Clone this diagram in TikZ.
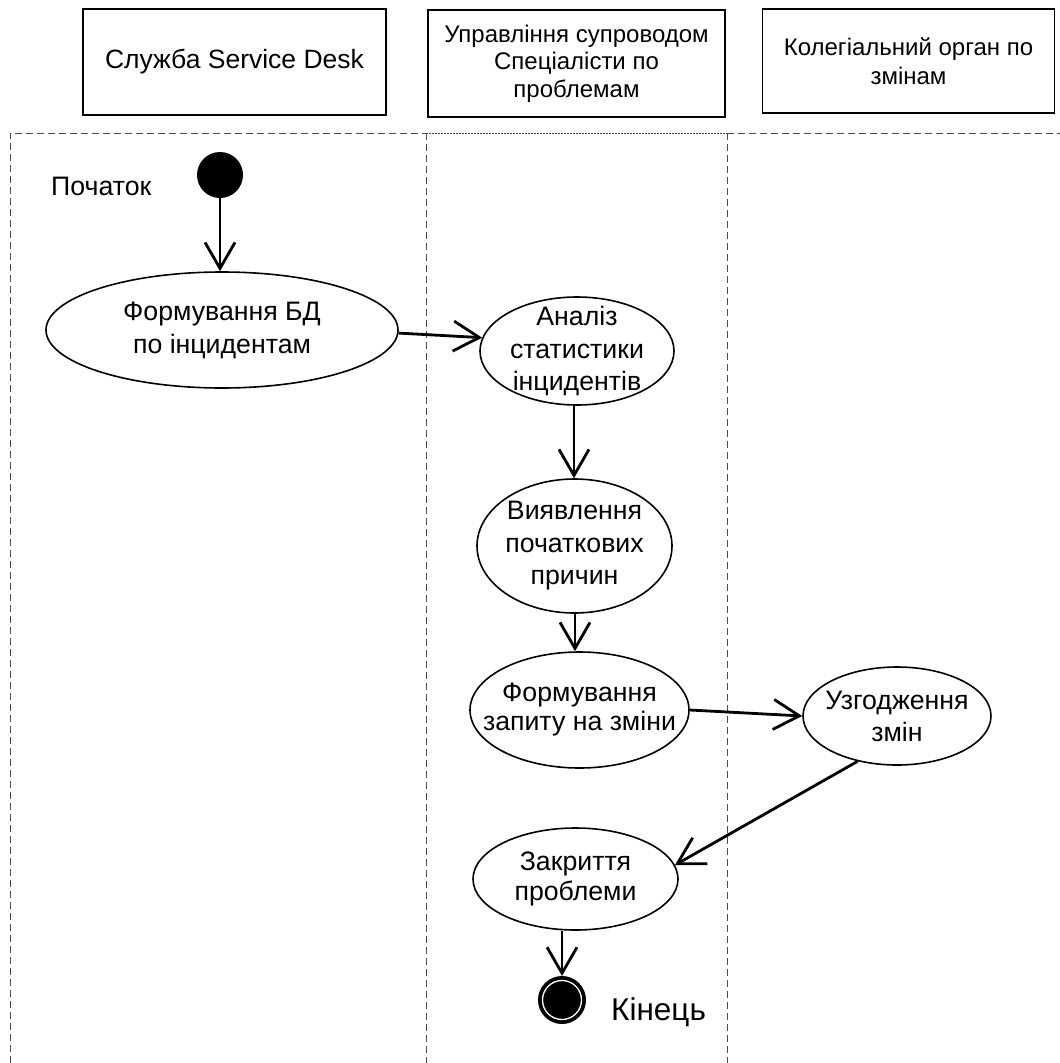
\documentclass[tikz,border=0pt]{standalone}
\usepackage{fontspec}
\setmainfont{Liberation Sans}
\usetikzlibrary{arrows.meta,shapes.geometric}
\begin{document}
\begin{tikzpicture}[x=1pt,y=-1pt,
  lane/.style={draw=black!70, line width=0.8pt, dash pattern=on 7pt off 4pt},
  lanefine/.style={draw=black!70, line width=0.8pt, dash pattern=on 2pt off 1pt},
  header/.style={draw, line width=1.5pt, align=center, inner sep=0pt,
    font=\fontsize{24}{28}\selectfont},
  act/.style={ellipse, draw, line width=1.6pt, inner sep=0pt},
  body/.style={align=center, inner sep=0pt, font=\fontsize{26.7}{#1}\selectfont},
  flow/.style={line width=2.8pt, -{Straight Barb[length=26pt,width=30pt,line width=2.8pt]}},
  lbl/.style={anchor=base west, inner sep=0pt}
]
\useasboundingbox (0,0) rectangle (1060,1063);

% swimlane headers
\node[header, minimum width=303pt, minimum height=106pt, font=\fontsize{26.5}{28}\selectfont] (h1) at (234.5,62) {Служба Service Desk};
\node[header, minimum width=297pt, minimum height=107pt, font=\fontsize{24}{27.5}\selectfont] (h2) at (576.5,63.5) {Управління супроводом\\Спеціалісти по\\проблемам};
\node[header, minimum width=292pt, minimum height=104pt, font=\fontsize{24}{29}\selectfont] (h3) at (908.5,61) {Колегіальний орган по\\змінам};

% swimlane borders
\draw[lane] (10,1063) -- (10,133) -- (426,133);
\draw[lanefine] (426,133) -- (727,133);
\draw[lane] (727,133) -- (1060,133);
\draw[lane] (426,133) -- (426,1063);
\draw[lane] (727,133) -- (727,1063);

% start and end states
\node[circle, fill=black, minimum size=46pt, inner sep=0pt] (start) at (220,175) {};
\node[lbl, font=\fontsize{26.7}{30}\selectfont] (startlbl) at (51,195) {Початок};
\node[circle, fill=black, draw=black, line width=1pt, minimum size=47pt, inner sep=0pt] (finish) at (562,1000) {};
\node[circle, draw=white, line width=1.3pt, minimum size=39pt, inner sep=0pt] (finishring) at (562,1000) {};
\node[lbl, font=\fontsize{31.5}{34}\selectfont] (finishlbl) at (611,1020) {Кінець};

% activities: fixed-size ellipses, caption centred inside
\node[act, minimum width=352pt, minimum height=116pt,
  label={[body=33]center:Формування БД\\по інцидентам}] (e1) at (222,330) {};
\node[act, minimum width=194pt, minimum height=108pt,
  label={[body=32.5]center:Аналіз\\статистики\\інцидентів}] (e2) at (577,351) {};
\node[act, minimum width=195pt, minimum height=134pt,
  label={[body=32.5]center:Виявлення\\початкових\\причин}] (e3) at (574.5,546) {};
\node[act, minimum width=219pt, minimum height=116pt,
  label={[body=29]center:Формування\\запиту на зміни}] (e4) at (579.5,710) {};
\node[act, minimum width=188pt, minimum height=98pt,
  label={[body=32]center:Узгодження\\змін}] (e5) at (897,716) {};
\node[act, minimum width=205pt, minimum height=102pt,
  label={[body=30]center:Закриття\\проблеми}] (e6) at (575.5,879) {};

% transitions
\draw[flow] (start.south) -- (start.south |- e1.north);
\draw[flow] (e1.-1.5) -- (e2.172);
\draw[flow] (e2.south -| 574,0) -- (e3.north -| 574,0);
\draw[flow] (e3.south -| 575,0) -- (e4.north -| 575,0);
\draw[flow] (e4.east) -- (e5.west);
\draw[flow] (e5.229) -- (e6.8);
\draw[flow] (e6.south -| finish.north) -- (finish.north);
\end{tikzpicture}
\end{document}
